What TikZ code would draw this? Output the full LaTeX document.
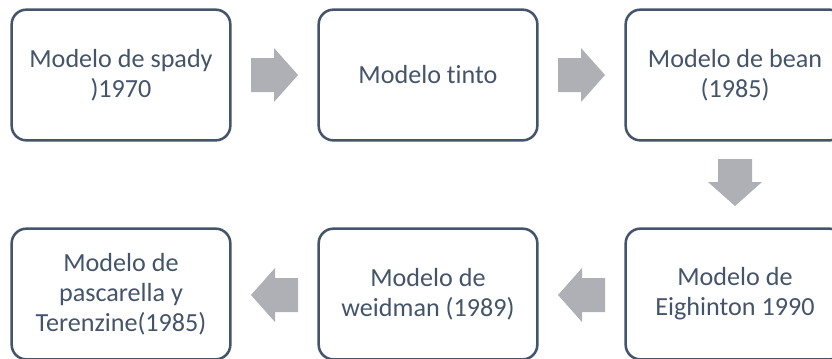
\documentclass[tikz,border=0pt]{standalone}
\usepackage{fontspec}
\setmainfont{Carlito}[Ligatures=NoCommon]
\usetikzlibrary{calc}
\definecolor{boxline}{HTML}{44546A}
\definecolor{arrowgray}{HTML}{AEB0B5}
\begin{document}
\begin{tikzpicture}[x=0.75pt,y=-0.75pt,
  modelbox/.style={draw=boxline, line width=1.9pt, rounded corners=11pt,
    minimum width=164pt, minimum height=98pt, align=center, text=boxline,
    fill=white, inner sep=0pt, font=\fontsize{19.6pt}{22.5pt}\selectfont},
  blockarrow/.style={fill=arrowgray}]
\useasboundingbox (0,0) rectangle (832,358);
\clip (0,0) rectangle (832,358);
\node[modelbox] (b1) at (121,75) {Modelo de spady\\)1970};
\node[modelbox] (b2) at (428,75) {Modelo tinto};
\node[modelbox] (b3) at (735,75) {Modelo de bean\\(1985)};
\node[modelbox] (b4) at (735,294) {Modelo de\\Eighinton 1990};
\node[modelbox] (b5) at (428,294) {Modelo de\\weidman (1989)};
\node[modelbox] (b6) at (121,294) {Modelo de\\pascarella y\\Terenzine(1985)};
\coordinate (m1) at ($(b1.east)!0.5!(b2.west)$);
\coordinate (m2) at ($(b2.east)!0.5!(b3.west)$);
\coordinate (m3) at ($(b3.south)!0.5!(b4.north)+(0,-2)$);
\coordinate (m4) at ($(b5.east)!0.5!(b4.west)+(0,1)$);
\coordinate (m5) at ($(b6.east)!0.5!(b5.west)+(0,1)$);
\foreach \m/\r in {m1/0, m2/0, m3/-90, m4/180, m5/180}{
  \fill[blockarrow, shift={(\m)}, rotate=\r]
    (-23.5,-17) -- (-0.5,-17) -- (-0.5,-27) -- (23.5,0) -- (-0.5,27)
    -- (-0.5,17) -- (-23.5,17) -- cycle;
}
\end{tikzpicture}
\end{document}
